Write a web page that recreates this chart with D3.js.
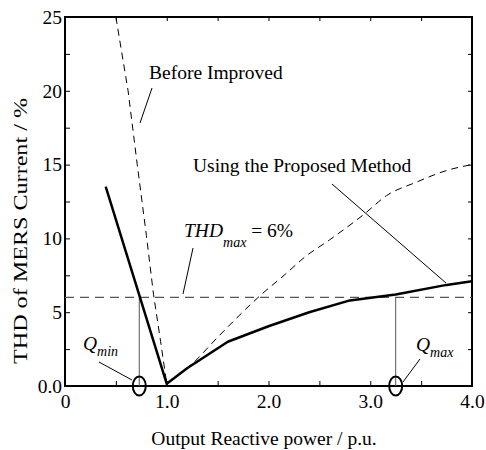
<!DOCTYPE html>
<html>
<head>
<meta charset="utf-8">
<script src="https://cdn.jsdelivr.net/npm/d3@7/dist/d3.min.js"></script>
<style>
  html, body { margin: 0; padding: 0; background: #fff; }
  svg { display: block; }
</style>
</head>
<body>
<svg id="chart" width="486" height="450"></svg>
<script>
// THD of the MERS current versus output reactive power
const proposedQ   = [0.4, 1.0, 1.2, 1.6, 2.0, 2.4, 2.8, 3.25, 3.75, 4.0];
const proposedTHD = [13.5, 0.15, 1.2, 3.0, 4.05, 5.0, 5.8, 6.2, 6.85, 7.1];

const beforeQ   = [0.5, 0.62, 0.71, 0.80, 0.87, 0.94, 1.0, 1.25, 1.5, 1.93, 2.17, 2.35, 2.6, 2.95, 3.16, 3.45, 3.75, 4.0];
const beforeTHD = [25, 20, 15, 10.2, 6.2, 3.0, 0.15, 1.5, 3.3, 6.2, 7.6, 8.7, 9.9, 11.7, 12.9, 13.8, 14.6, 15.0];

const thdMax = 6;        // limit, %
const qMin = 0.73;       // p.u.
const qMax = 3.25;       // p.u.

const xTicks = [0, 0.5, 1, 1.5, 2, 2.5, 3, 3.5, 4];
const xTickLabels = ["0", "", "1.0", "", "2.0", "", "3.0", "", "4.0"];
const yTicks = [0, 2.5, 5, 7.5, 10, 12.5, 15, 17.5, 20, 22.5, 25];
const yTickLabels = ["0.0", "", "5", "", "10", "", "15", "", "20", "", "25"];

const margin = { left: 65, right: 14, top: 17, bottom: 64 };
const W = 486, H = 450;
const FONT = '"Liberation Serif", "Times New Roman", Tinos, serif';
const fs = 19.5;
const subFs = 14;

const svg = d3.select("#chart");
const x = d3.scaleLinear().domain([0, 4]).range([margin.left, W - margin.right]);
const y = d3.scaleLinear().domain([0, 25]).range([H - margin.bottom, margin.top]);

function txt(sel) {
  return sel.style("font-family", FONT).style("font-size", fs + "px").style("fill", "#000");
}

// frame
svg.append("rect")
  .attr("x", x(0)).attr("y", y(25))
  .attr("width", x(4) - x(0)).attr("height", y(0) - y(25))
  .attr("fill", "none").attr("stroke", "#000").attr("stroke-width", 2);

// axes with inward ticks
function styleAxis(g) {
  g.select(".domain").remove();
  g.selectAll(".tick line").attr("stroke", "#000").attr("stroke-width", 1);
  g.selectAll(".tick text").call(txt);
}
svg.append("g").attr("transform", `translate(0,${y(0)})`)
  .call(d3.axisBottom(x).tickValues(xTicks).tickSize(-5).tickPadding(8)
    .tickFormat((d, i) => xTickLabels[i]))
  .call(styleAxis);
svg.append("g").attr("transform", `translate(0,${y(25)})`)
  .call(d3.axisTop(x).tickValues(xTicks).tickSize(-4).tickFormat(""))
  .call(styleAxis);
svg.append("g").attr("transform", `translate(${x(0)},0)`)
  .call(d3.axisLeft(y).tickValues(yTicks).tickSize(-5).tickPadding(3)
    .tickFormat((d, i) => yTickLabels[i]))
  .call(styleAxis);
svg.append("g").attr("transform", `translate(${x(4)},0)`)
  .call(d3.axisRight(y).tickValues(yTicks).tickSize(-4).tickFormat(""))
  .call(styleAxis);

// axis titles
svg.append("text")
  .attr("x", 264).attr("y", 445)
  .attr("text-anchor", "middle")
  .call(txt)
  .text("Output Reactive power / p.u.");
svg.append("text")
  .attr("transform", "translate(27,231) rotate(-90)")
  .attr("text-anchor", "middle")
  .attr("textLength", 266).attr("lengthAdjust", "spacingAndGlyphs")
  .call(txt)
  .text("THD of MERS Current / %");

svg.append("clipPath").attr("id", "plotclip")
  .append("rect").attr("x", x(0)).attr("y", y(25))
  .attr("width", x(4) - x(0)).attr("height", y(0) - y(25));

const line = d3.line().x(d => x(d[0])).y(d => y(d[1]));
const smooth = d3.line().x(d => x(d[0])).y(d => y(d[1])).curve(d3.curveMonotoneX);
const plot = svg.append("g").attr("clip-path", "url(#plotclip)");

// THD limit line
plot.append("line")
  .attr("x1", x(0)).attr("x2", x(4)).attr("y1", y(thdMax)).attr("y2", y(thdMax))
  .attr("stroke", "#555").attr("stroke-width", 1.3).attr("stroke-dasharray", "9,6");

// Qmin / Qmax markers
[qMin, qMax].forEach(q => {
  plot.append("line")
    .attr("x1", x(q)).attr("x2", x(q)).attr("y1", y(0)).attr("y2", y(thdMax))
    .attr("stroke", "#555").attr("stroke-width", 1);
});

// before improvement: falling branch straight, rising branch smoothed
const beforePts = beforeQ.map((q, i) => [q, beforeTHD[i]]);
const iMin = d3.minIndex(beforeTHD);
[[beforePts.slice(0, iMin + 1), line], [beforePts.slice(iMin), smooth]].forEach(([pts, gen]) => {
  plot.append("path")
    .datum(pts)
    .attr("d", gen).attr("fill", "none")
    .attr("stroke", "#000").attr("stroke-width", 1).attr("stroke-dasharray", "7,5");
});

// proposed method
plot.append("path")
  .datum(proposedQ.map((q, i) => [q, proposedTHD[i]]))
  .attr("d", line).attr("fill", "none")
  .attr("stroke", "#000").attr("stroke-width", 2.5).attr("stroke-linejoin", "round");

// circles on the Q axis
[qMin, qMax].forEach(q => {
  svg.append("ellipse")
    .attr("cx", x(q)).attr("cy", y(0))
    .attr("rx", 6.5).attr("ry", 9.5)
    .attr("fill", "none").attr("stroke", "#000").attr("stroke-width", 2);
});

// annotations
function leader(x1, y1, x2, y2) {
  svg.append("line").attr("x1", x1).attr("y1", y1).attr("x2", x2).attr("y2", y2)
    .attr("stroke", "#000").attr("stroke-width", 1);
}
svg.append("text").attr("x", 149).attr("y", 79).call(txt).text("Before Improved");
leader(152, 88, 140, 123);

svg.append("text").attr("x", 193).attr("y", 172).call(txt).text("Using the Proposed Method");
leader(332, 184, 446, 283);

const thdLabel = svg.append("text").attr("x", 184).attr("y", 237).call(txt);
thdLabel.append("tspan").style("font-style", "italic").text("THD");
thdLabel.append("tspan").style("font-style", "italic").style("font-size", subFs + "px").attr("dy", 10).text("max");
thdLabel.append("tspan").attr("dy", -10).text(" = 6%");
leader(193, 248, 183, 294);

const qminLabel = svg.append("text").attr("x", 83).attr("y", 350).call(txt);
qminLabel.append("tspan").style("font-style", "italic").text("Q");
qminLabel.append("tspan").style("font-style", "italic").style("font-size", subFs + "px").attr("dy", 6).text("min");
leader(99, 362, 132, 380);

const qmaxLabel = svg.append("text").attr("x", 416).attr("y", 351).call(txt);
qmaxLabel.append("tspan").style("font-style", "italic").text("Q");
qmaxLabel.append("tspan").style("font-style", "italic").style("font-size", subFs + "px").attr("dy", 6).text("max");
leader(420, 359, 403, 382);
</script>
</body>
</html>
